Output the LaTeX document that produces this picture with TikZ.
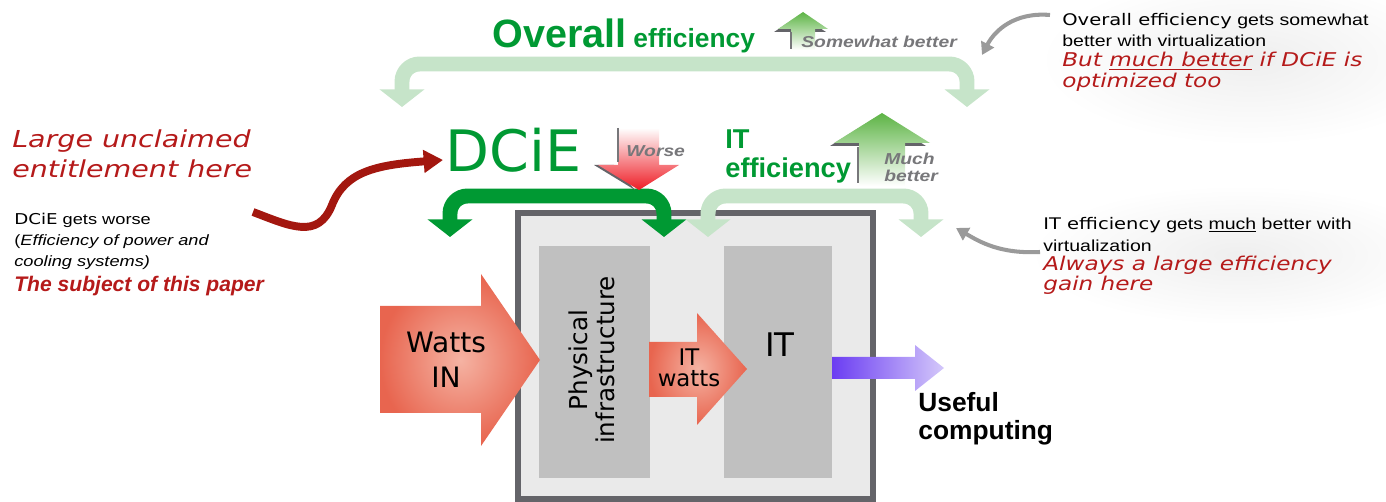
\documentclass[tikz,border=0pt]{standalone}
\usepackage{fontspec}
\setmainfont{Liberation Sans}
\newfontfamily\verd{DejaVu Sans}
\newfontfamily\annV[FakeStretch=1.22]{DejaVu Sans}
\newfontfamily\annA[FakeStretch=1.22]{Liberation Sans}
\usetikzlibrary{arrows.meta}

\definecolor{verdeeff}{HTML}{009933}
\definecolor{verdechiaro}{HTML}{C6E4C9}
\definecolor{verdepunta}{HTML}{5DB445}
\definecolor{rossotesto}{HTML}{B51A1A}
\definecolor{rossocurva}{HTML}{A3170F}
\definecolor{rossopunta}{HTML}{EE1C25}
\definecolor{grigiobordo}{HTML}{646469}
\definecolor{grigiobox}{HTML}{EAEAEA}
\definecolor{grigioblocco}{HTML}{C0C0C0}
\definecolor{salmonescuro}{HTML}{E8654F}
\definecolor{salmonechiaro}{HTML}{F5B3A3}
\definecolor{viola}{HTML}{6B3DF2}
\definecolor{violachiaro}{HTML}{D4C8FA}
\definecolor{grigiotesto}{HTML}{77777A}
\definecolor{grigiofreccia}{HTML}{9A9A9A}

\newcommand{\dimfont}[2]{\fontsize{#1}{#2}\selectfont}

\begin{document}
\begin{tikzpicture}[x=0.02cm, y=-0.02cm,
    ufreccia/.style={line width=8.5pt, rounded corners=10pt,
        {Triangle[width=25pt,length=10pt]}-{Triangle[width=25pt,length=10pt]}},
    nota/.style={anchor=base west, align=left, inner sep=0pt},
    grigiaf/.style={grigiofreccia, line width=2.3pt, -{Triangle[width=8pt,length=7pt]}}]
        \useasboundingbox (0,0) rectangle (1386,502);

        % Alone grigio dietro le note a destra
        \shade[inner color=gray!13, outer color=white] (1250,60) ellipse (210 and 85);
        \shade[inner color=gray!13, outer color=white] (1240,255) ellipse (210 and 70);

        % Riquadro del data center
        \draw[line width=3pt, draw=grigiobordo, fill=grigiobox] (518,213) rectangle (873,499);
        \fill[grigioblocco] (539,246) rectangle (650,478);
        \fill[grigioblocco] (724,246) rectangle (832,478);

        % Frecce di potenza
        \shade[inner color=salmonechiaro, outer color=salmonescuro]
            (380,306) -- (481,306) -- (481,274) -- (540,360) -- (481,446) -- (481,413) -- (380,413) -- cycle;
        \shade[inner color=salmonechiaro, outer color=salmonescuro]
            (649,342) -- (697,342) -- (697,313) -- (747,369) -- (697,425) -- (697,397) -- (649,397) -- cycle;
        \shade[left color=viola, right color=violachiaro]
            (832,357) -- (915,357) -- (915,345) -- (944,368) -- (915,391) -- (915,379) -- (832,379) -- cycle;

        % Testi dentro il riquadro
        \node (wattsin) [align=center, font=\verd\dimfont{16}{20}] at (446,360) {Watts\\IN};
        \node (fisica) [rotate=90, align=center, font=\verd\dimfont{14}{15.5}] at (592,360) {Physical\\infrastructure};
        \node (itwatts) [align=center, font=\verd\dimfont{13}{12}] at (689,368) {IT\\watts};
        \node (itblocco) [font=\verd\dimfont{18.5}{22}] at (780,345) {IT};
        \node (utile) [nota, font=\bfseries\dimfont{15}{16.5}] at (918,440) {Useful\\computing};

        % Frecce a U
        \draw[ufreccia, verdechiaro] (402,107) -- (402,64) -- (967,64) -- (967,107);
        \draw[ufreccia, verdeeff] (450,237) -- (450,196) -- (664,196) -- (664,237);
        \draw[ufreccia, verdechiaro] (708,237) -- (708,196) -- (921,196) -- (921,237);

        % Freccetta "somewhat better"
        \fill[grigiobordo] (774,32) -- (800,15) -- (826,32) -- cycle;
        \shade[top color=verdepunta, bottom color=white]
            (803,12) -- (828,29) -- (815,29) -- (815,50) -- (791,50) -- (791,29) -- (778,29) -- cycle;
        \draw[grigiotesto, line width=1.2pt] (791,32) -- (791,49);

        % Freccia "worse"
        \fill[grigiobordo] (594,165) -- (635,190) -- (614,165) -- cycle;
        \shade[top color=white, bottom color=rossopunta]
            (618,128) -- (659,128) -- (659,165) -- (679,165) -- (639,190) -- (598,165) -- (618,165) -- cycle;
        \draw[grigiotesto, line width=1.2pt] (618,128) -- (618,162);

        % Freccia "much better"
        \fill[grigiobordo] (830,146) -- (878,116) -- (926,146) -- cycle;
        \shade[top color=verdepunta, bottom color=white]
            (882,113) -- (930,143) -- (905,143) -- (905,186) -- (859,186) -- (859,143) -- (834,143) -- cycle;
        \draw[grigiotesto, line width=1.2pt] (858,147) -- (858,183);

        % Titoli verdi
        \node (overall) [nota, verdeeff, font=\bfseries] at (492,48) {{\dimfont{22.5}{24}Overall}\hspace{4pt}{\dimfont{15}{18}efficiency}};
        \node (somewhat) [nota, grigiotesto, font=\annA\bfseries\itshape\dimfont{9}{10}] at (801,48) {Somewhat better};
        \node (dcie) [nota, verdeeff, font=\verd\dimfont{32.5}{36}] at (445,172) {DCiE};
        \node (worse) [nota, grigiotesto, font=\annA\bfseries\itshape\dimfont{9}{10}] at (626,157) {Worse};
        \node (iteff) [nota, verdeeff, font=\bfseries\dimfont{15.5}{17}] at (725,178) {IT\\efficiency};
        \node (much) [nota, grigiotesto, font=\annA\bfseries\itshape\dimfont{9}{9.8}] at (884,182) {Much\\better};

        % Note a sinistra
        \node (unclaimed) [nota, rossotesto, font=\annV\itshape\dimfont{13.3}{17.6}] at (12,178) {Large unclaimed\\entitlement here};
        \node (peggiora) [nota, font=\annA\dimfont{8.5}{12}] at (14,267) {{\annV DCiE} gets worse\\(\textit{Efficiency of power and}\\\textit{cooling systems)}};
        \node (soggetto) [nota, rossotesto, font=\bfseries\itshape\dimfont{12}{13}] at (14,292) {The subject of this paper};

        % Freccia rossa verso DCiE
        \coordinate (iniziorosso) at (253,212);
        \coordinate (puntarossa) at (443,160);
        \draw[rossocurva, line width=4.5pt, -{Triangle[width=12.5pt,length=11pt]}]
            (iniziorosso) .. controls (290,226) and (318,240) .. (332,205)
            .. controls (345,172) and (375,165) .. (puntarossa);

        % Note a destra
        \node (notacompl) [nota, font=\annA\dimfont{9.1}{12}] at (1062,47) {{\annV Overall efficiency} gets somewhat\\ better with virtualization};
        \node (notabut) [nota, rossotesto, font=\annV\itshape\dimfont{10.8}{12}] at (1062,88) {But \underline{much better} if DCiE is\\optimized too};
        \node (notait) [nota, font=\annA\dimfont{9.1}{13}] at (1043,252) {{\annV IT efficiency} gets \underline{much} better with\\virtualization};
        \node (notaalways) [nota, rossotesto, font=\annV\itshape\dimfont{10.8}{10}] at (1043,291) {Always a large efficiency\\gain here};

        % Frecce grigie
        \coordinate (iniziocompl) at (1050,15);
        \coordinate (puntacompl) at (982,55);
        \draw[grigiaf] (iniziocompl) .. controls (1015,12) and (995,30) .. (puntacompl);
        \coordinate (inizioit) at (1040,252);
        \coordinate (puntait) at (956,228);
        \draw[grigiaf] (inizioit) .. controls (1000,254) and (980,242) .. (puntait);

    \end{tikzpicture}
\end{document}
